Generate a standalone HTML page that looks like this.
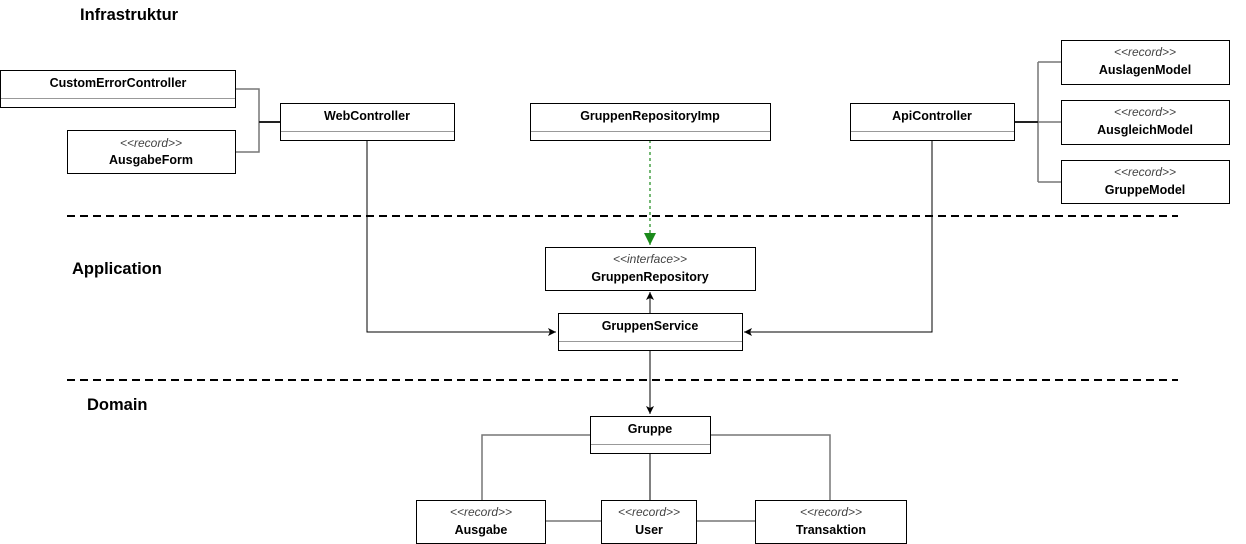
<!DOCTYPE html><html><head><style>body{margin:0;background:#fff}svg{display:block}text{font-family:"Liberation Sans",Arial,sans-serif;font-size:13px;text-anchor:middle}.b{font-weight:bold;font-size:12.5px}.i{font-style:italic;font-size:12px;fill:#444}.h{font-weight:bold;font-size:16.5px;text-anchor:start}</style></head><body>
<svg width="1246" height="544" viewBox="0 0 1246 544">
<defs><marker id="a" markerWidth="10" markerHeight="10" refX="8" refY="4" orient="auto" markerUnits="userSpaceOnUse"><path d="M0,0L8,4L0,8L2,4z" fill="#000"/></marker>
<marker id="g" markerWidth="14" markerHeight="14" refX="12" refY="6" orient="auto" markerUnits="userSpaceOnUse"><path d="M0,0L12,6L0,12z" fill="#1a8a1a"/></marker></defs>
<text class="h" x="80" y="20">Infrastruktur</text>
<text class="h" x="72" y="274">Application</text>
<text class="h" x="87" y="410">Domain</text>
<g stroke="#000" stroke-width="2" stroke-dasharray="8,5"><line x1="67" y1="216" x2="1178" y2="216"/><line x1="67" y1="380" x2="1178" y2="380"/></g>
<g fill="none" stroke="#777" stroke-width="1.5">
<path d="M235,89H259V152H235M259,122H280"/>
<path d="M1014,122H1038M1038,62V182M1038,62H1061M1038,122H1061M1038,182H1061"/>
<path d="M590,435H482V500M710,435H830V500M545,521H601M696,521H755"/>
</g>
<path d="M259,122H280M1014,122H1038" stroke="#222" stroke-width="2"/>
<g fill="none" stroke="#000" stroke-width="1">
<path d="M367,140V332H556" marker-end="url(#a)"/>
<path d="M932,140V332H744" marker-end="url(#a)"/>
<path d="M650,313V292" marker-end="url(#a)"/>
<path d="M650,350V414" marker-end="url(#a)"/>
<path d="M650,453V500"/>
</g>
<path d="M650,140V245" stroke="#1a8a1a" stroke-width="1.2" stroke-dasharray="3,3" fill="none" marker-end="url(#g)"/>
<g fill="#fff" stroke="#000">
<rect x="0.5" y="70.5" width="235" height="37"/><rect x="67.5" y="130.5" width="168" height="43"/>
<rect x="280.5" y="103.5" width="174" height="37"/><rect x="530.5" y="103.5" width="240" height="37"/>
<rect x="850.5" y="103.5" width="164" height="37"/>
<rect x="1061.5" y="40.5" width="168" height="44"/><rect x="1061.5" y="100.5" width="168" height="44"/><rect x="1061.5" y="160.5" width="168" height="43"/>
<rect x="545.5" y="247.5" width="210" height="43"/><rect x="558.5" y="313.5" width="184" height="37"/>
<rect x="590.5" y="416.5" width="120" height="37"/>
<rect x="416.5" y="500.5" width="129" height="43"/><rect x="601.5" y="500.5" width="95" height="43"/><rect x="755.5" y="500.5" width="151" height="43"/>
</g>
<g stroke="#999"><line x1="1" y1="98.5" x2="235" y2="98.5"/><line x1="281" y1="131.5" x2="454" y2="131.5"/><line x1="531" y1="131.5" x2="770" y2="131.5"/><line x1="851" y1="131.5" x2="1014" y2="131.5"/><line x1="559" y1="341.5" x2="742" y2="341.5"/><line x1="591" y1="444.5" x2="710" y2="444.5"/></g>
<text class="b" x="118" y="87">CustomErrorController</text>
<text class="i" x="151" y="147">&lt;&lt;record&gt;&gt;</text><text class="b" x="151" y="164">AusgabeForm</text>
<text class="b" x="367" y="120">WebController</text>
<text class="b" x="650" y="120">GruppenRepositoryImp</text>
<text class="b" x="932" y="120">ApiController</text>
<text class="i" x="1145" y="56">&lt;&lt;record&gt;&gt;</text><text class="b" x="1145" y="74">AuslagenModel</text>
<text class="i" x="1145" y="116">&lt;&lt;record&gt;&gt;</text><text class="b" x="1145" y="134">AusgleichModel</text>
<text class="i" x="1145" y="176">&lt;&lt;record&gt;&gt;</text><text class="b" x="1145" y="194">GruppeModel</text>
<text class="i" x="650" y="263">&lt;&lt;interface&gt;&gt;</text><text class="b" x="650" y="281">GruppenRepository</text>
<text class="b" x="650" y="330">GruppenService</text>
<text class="b" x="650" y="433">Gruppe</text>
<text class="i" x="481" y="516">&lt;&lt;record&gt;&gt;</text><text class="b" x="481" y="534">Ausgabe</text>
<text class="i" x="649" y="516">&lt;&lt;record&gt;&gt;</text><text class="b" x="649" y="534">User</text>
<text class="i" x="831" y="516">&lt;&lt;record&gt;&gt;</text><text class="b" x="831" y="534">Transaktion</text>
</svg></body></html>
